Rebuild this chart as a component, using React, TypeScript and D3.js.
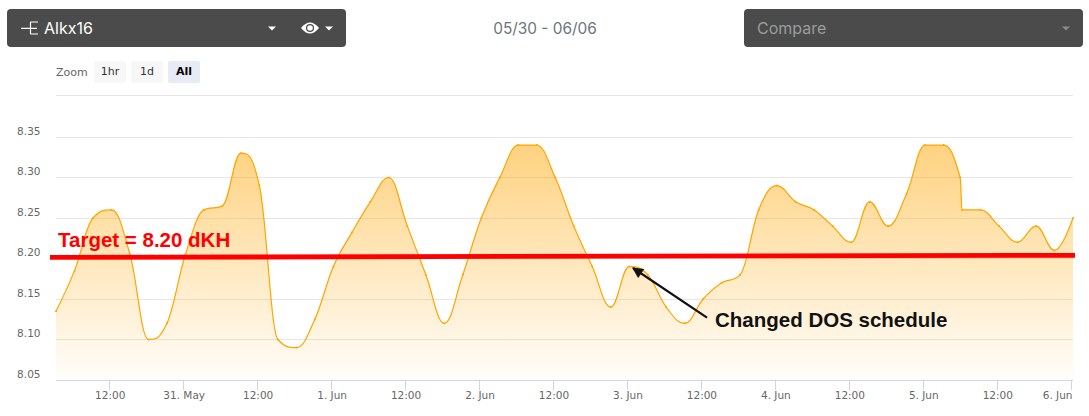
import React from "react";
import * as d3 from "d3";

const START = Date.UTC(2018, 4, 30, 3, 22);
const hoursFromStart = [
  0, 3, 6, 9, 12, 15, 18, 21, 24, 27, 30, 33, 36, 39, 42, 45, 48, 51, 54, 57, 60, 63, 66, 69, 72, 75, 78, 81,
  84, 87, 90, 93, 96, 99, 102, 105, 108, 111, 114, 117, 120, 123, 126, 129, 132, 135, 138, 141, 144, 146.7,
  147, 150, 153, 156, 159, 162, 165,
];
const values = [
  8.135, 8.185, 8.25, 8.26, 8.205, 8.1, 8.12, 8.205, 8.26, 8.265, 8.33, 8.29, 8.1, 8.09, 8.125, 8.19, 8.232,
  8.27, 8.3, 8.24, 8.18, 8.12, 8.18, 8.25, 8.3, 8.34, 8.34, 8.3, 8.24, 8.19, 8.14, 8.19, 8.18, 8.14, 8.12,
  8.15, 8.17, 8.18, 8.26, 8.29, 8.27, 8.26, 8.24, 8.22, 8.27, 8.24, 8.28, 8.34, 8.34, 8.3, 8.26, 8.26, 8.24,
  8.22, 8.24, 8.21, 8.25,
];
const yTicks = [8.05, 8.1, 8.15, 8.2, 8.25, 8.3, 8.35, 8.4];
const xTickDates = [
  [2018, 4, 30, 12, "12:00"],
  [2018, 4, 31, 0, "31. May"],
  [2018, 4, 31, 12, "12:00"],
  [2018, 5, 1, 0, "1. Jun"],
  [2018, 5, 1, 12, "12:00"],
  [2018, 5, 2, 0, "2. Jun"],
  [2018, 5, 2, 12, "12:00"],
  [2018, 5, 3, 0, "3. Jun"],
  [2018, 5, 3, 12, "12:00"],
  [2018, 5, 4, 0, "4. Jun"],
  [2018, 5, 4, 12, "12:00"],
  [2018, 5, 5, 0, "5. Jun"],
  [2018, 5, 5, 12, "12:00"],
  [2018, 5, 6, 0, "6. Jun"],
] as const;
const zoomButtons = ["1hr", "1d", "All"];

const LABEL_FONT = "'DejaVu Sans', sans-serif";
const UI_FONT = "Inter, 'Noto Sans', sans-serif";
const BOLD_FONT = "'Liberation Sans', Arial, sans-serif";

const toTime = (h: number) => new Date(START + h * 3600000);
const x = d3.scaleUtc().domain([toTime(0), toTime(165)]).range([56, 1073]);
const y = d3.scaleLinear().domain([8.05, 8.35, 8.4]).range([380, 137, 95.3]);

// Spline with the neighbour-weighted control points the source chart's library uses.
class SplineCurve {
  ctx: any;
  line = NaN;
  px: number[] = [];
  py: number[] = [];
  constructor(ctx: any) {
    this.ctx = ctx;
  }
  areaStart() {
    this.line = 0;
  }
  areaEnd() {
    this.line = NaN;
  }
  lineStart() {
    this.px = [];
    this.py = [];
  }
  point(a: number, b: number) {
    this.px.push(+a);
    this.py.push(+b);
  }
  lineEnd() {
    const { px, py, ctx } = this;
    const n = px.length;
    const s = 1.5;
    const den = s + 1;
    const ctrl = (i: number) => {
      if (i <= 0 || i >= n - 1) return null;
      const lx = (s * px[i] + px[i - 1]) / den;
      let ly = (s * py[i] + py[i - 1]) / den;
      const rx = (s * px[i] + px[i + 1]) / den;
      let ry = (s * py[i] + py[i + 1]) / den;
      if (rx !== lx) {
        const c = ((ry - ly) * (rx - px[i])) / (rx - lx) + py[i] - ry;
        ly += c;
        ry += c;
      }
      const a = py[i - 1];
      const b = py[i + 1];
      if (ly > a && ly > py[i]) {
        ly = Math.max(a, py[i]);
        ry = 2 * py[i] - ly;
      } else if (ly < a && ly < py[i]) {
        ly = Math.min(a, py[i]);
        ry = 2 * py[i] - ly;
      }
      if (ry > b && ry > py[i]) {
        ry = Math.max(b, py[i]);
        ly = 2 * py[i] - ry;
      } else if (ry < b && ry < py[i]) {
        ry = Math.min(b, py[i]);
        ly = 2 * py[i] - ry;
      }
      return { lx, ly, rx, ry };
    };
    for (let i = 0; i < n; i++) {
      if (i === 0) {
        if (this.line) ctx.lineTo(px[0], py[0]);
        else ctx.moveTo(px[0], py[0]);
      } else {
        const p = ctrl(i - 1);
        const q = ctrl(i);
        ctx.bezierCurveTo(
          p ? p.rx : px[i - 1],
          p ? p.ry : py[i - 1],
          q ? q.lx : px[i],
          q ? q.ly : py[i],
          px[i],
          py[i]
        );
      }
    }
    if (this.line === 1) ctx.closePath();
    this.line = 1 - this.line;
  }
}
const splineCurve = (ctx: any) => new SplineCurve(ctx) as any;

const points = hoursFromStart.map((h, i) => ({ t: toTime(h), v: values[i] }));
const lineGen = d3.line<{ t: Date; v: number }>().x((d) => x(d.t)).y((d) => y(d.v)).curve(splineCurve);
const areaGen = d3
  .area<{ t: Date; v: number }>()
  .x((d) => x(d.t))
  .y0(y(8.05))
  .y1((d) => y(d.v))
  .curve(splineCurve);

function Caret({ cx, fill = "#fff" }: { cx: number; fill?: string }) {
  return <path d={`M${cx - 4} 26.5 L${cx + 4} 26.5 L${cx} 30.5 Z`} fill={fill} />;
}

export default function App() {
  return (
    <svg
      width={1089}
      height={416}
      style={{ position: "absolute", left: 0, top: 0, display: "block", background: "#fff" }}
    >
      <defs>
        <linearGradient id="areaFill" x1="0" y1="0" x2="0" y2="1">
          <stop offset="0" stopColor="#ffa500" stopOpacity={0.5} />
          <stop offset="1" stopColor="#ffa500" stopOpacity={0.02} />
        </linearGradient>
        <marker id="arrowHead" viewBox="0 0 10 10" refX="9" refY="5" markerWidth="5.5" markerHeight="5" orient="auto">
          <path d="M0 0 L10 5 L0 10 Z" fill="#111" />
        </marker>
      </defs>

      {/* header controls */}
      <rect x={7} y={9} width={339} height={38} rx={4} fill="#4a4b4a" />
      <path d="M21 28.3 H37 M30.5 22 V34 M30.5 22 H38 M30.5 34 H38" stroke="#fff" strokeWidth={1.2} fill="none" />
      <text x={44} y={34} fontFamily={UI_FONT} fontSize={16} fill="#fff">Alkx16</text>
      <Caret cx={272} />
      <path d="M301 28 Q310 17 319 28 Q310 39 301 28 Z" fill="#fff" />
      <circle cx={310} cy={28} r={4} fill="#4a4b4a" />
      <circle cx={310} cy={28} r={2.8} fill="#fff" />
      <Caret cx={329} />
      <text x={545} y={34} textAnchor="middle" fontFamily={UI_FONT} fontSize={15.4} fill="#6c757d">05/30 - 06/06</text>
      <rect x={744} y={9} width={339} height={38} rx={4} fill="#4a4b4a" />
      <text x={757} y={34} fontFamily={UI_FONT} fontSize={16} fill="#9a9c9d">Compare</text>
      <Caret cx={1066} fill="#8a8c8c" />

      {/* range selector */}
      <text x={56} y={76} fontFamily={LABEL_FONT} fontSize={11} fill="#666">Zoom</text>
      {zoomButtons.map((label, i) => (
        <g key={label}>
          <rect x={94 + i * 37} y={61} width={32} height={22} rx={2} fill={label === "All" ? "#e6ebf5" : "#f7f7f7"} />
          <text
            x={110 + i * 37}
            y={75}
            textAnchor="middle"
            fontFamily={LABEL_FONT}
            fontSize={11}
            fontWeight={label === "All" ? 700 : 400}
            fill={label === "All" ? "#000" : "#333"}
          >
            {label}
          </text>
        </g>
      ))}

      {/* grid */}
      {yTicks.slice(1).map((t) => (
        <line key={t} x1={56} x2={1073} y1={Math.floor(y(t)) + 0.5} y2={Math.floor(y(t)) + 0.5} stroke="#e6e6e6" />
      ))}
      {yTicks.slice(0, -1).map((t) => (
        <text key={t} x={40.5} y={y(t) - 2.5} textAnchor="end" fontFamily={LABEL_FONT} fontSize={10.5} fill="#666">
          {t.toFixed(2)}
        </text>
      ))}

      {/* series */}
      <path d={areaGen(points) ?? ""} fill="url(#areaFill)" />
      <path d={lineGen(points) ?? ""} fill="none" stroke="#ffa500" strokeWidth={1.2} />
      {points.map((p, i) => (
        <circle key={i} cx={x(p.t)} cy={y(p.v)} r={1} fill="#ffa500" />
      ))}

      {/* x axis */}
      <line x1={56} x2={1073} y1={380.5} y2={380.5} stroke="#ccd6eb" />
      {xTickDates.map(([yr, mo, da, hr, label], i) => {
        const px = x(new Date(Date.UTC(yr, mo, da, hr)));
        const last = i === xTickDates.length - 1;
        return (
          <g key={i}>
            <line x1={Math.round(px) + 0.5} x2={Math.round(px) + 0.5} y1={380} y2={390} stroke="#ccd6eb" />
            <text
              x={last ? 1072.5 : px + 1}
              y={398.5}
              textAnchor={last ? "end" : "middle"}
              fontFamily={LABEL_FONT}
              fontSize={10.5}
              fill="#666"
            >
              {label}
            </text>
          </g>
        );
      })}

      {/* annotations */}
      <line x1={50} y1={257.4} x2={1075} y2={255.3} stroke="#ff0000" strokeWidth={4.8} />
      <text x={58} y={247} fontFamily={BOLD_FONT} fontWeight={700} fontSize={20.5} fill="#ff0000">Target = 8.20 dKH</text>
      <line x1={707} y1={317.7} x2={633} y2={268} stroke="#111" strokeWidth={2.2} markerEnd="url(#arrowHead)" />
      <text x={715} y={326.5} fontFamily={BOLD_FONT} fontWeight={700} fontSize={20.5} fill="#111">Changed DOS schedule</text>
    </svg>
  );
}
